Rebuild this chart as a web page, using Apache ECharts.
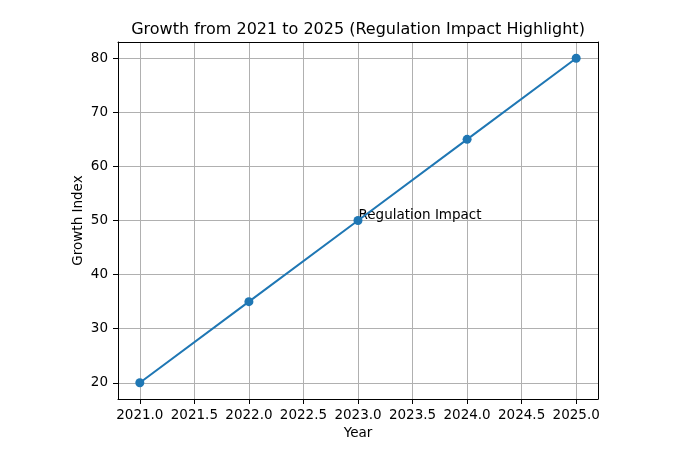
<!DOCTYPE html>
<html>
<head>
<meta charset="utf-8">
<script src="https://cdn.jsdelivr.net/npm/echarts@6/dist/echarts.min.js"></script>
<style>html,body{margin:0;padding:0;background:#fff}#c{width:700px;height:450px}</style>
</head>
<body>
<div id="c"></div>
<script>
var years = [2021, 2022, 2023, 2024, 2025];
var growth = [20, 35, 50, 65, 80];
var annotation = { x: 2023, y: 50, text: 'Regulation Impact' };

var font = 'DejaVu Sans';
var frameLine = { show: true, lineStyle: { color: '#000', width: 1 } };
var chart = echarts.init(document.getElementById('c'), null, { renderer: 'canvas' });
chart.setOption({
  animation: false,
  backgroundColor: '#fff',
  title: {
    text: 'Growth from 2021 to 2025 (Regulation Impact Highlight)',
    left: 353, top: 17, textAlign: 'center',
    textStyle: { fontFamily: font, fontSize: 16, fontWeight: 'normal', color: '#000' }
  },
  grid: { left: 118, right: 102, top: 42, bottom: 51 },
  xAxis: [{
    type: 'value', min: 2020.8, max: 2025.2, splitNumber: 8,
    name: 'Year', nameLocation: 'middle', nameGap: 27, nameMoveOverlap: false,
    nameTextStyle: { fontFamily: font, fontSize: 13.5, color: '#000' },
    axisLine: frameLine,
    axisTick: { show: true, length: 5, lineStyle: { color: '#000', width: 1 } },
    axisLabel: { showMinLabel: false, showMaxLabel: false, margin: 9, fontFamily: font, fontSize: 13.5, color: '#000',
      formatter: function (v) { return (Math.abs(v * 2 - Math.round(v * 2)) < 1e-6) ? v.toFixed(1) : ''; } },
    splitLine: { show: true, lineStyle: { color: '#b0b0b0', width: 1 } }
  }, {
    type: 'value', min: 2020.8, max: 2025.2, position: 'top',
    axisLine: frameLine, axisTick: { show: false }, axisLabel: { show: false }, splitLine: { show: false }
  }],
  yAxis: [{
    type: 'value', min: 17, max: 83, splitNumber: 6,
    name: 'Growth Index', nameLocation: 'middle', nameGap: 33, nameRotate: 90, nameMoveOverlap: false,
    nameTextStyle: { fontFamily: font, fontSize: 13.5, color: '#000' },
    axisLine: frameLine,
    axisTick: { show: true, length: 5, lineStyle: { color: '#000', width: 1 } },
    axisLabel: { showMinLabel: false, showMaxLabel: false, margin: 10, fontFamily: font, fontSize: 13.5, color: '#000',
      formatter: function (v) { return (Math.abs(v / 10 - Math.round(v / 10)) < 1e-6) ? String(v) : ''; } },
    splitLine: { show: true, lineStyle: { color: '#b0b0b0', width: 1 } }
  }, {
    type: 'value', min: 17, max: 83, position: 'right',
    axisLine: frameLine, axisTick: { show: false }, axisLabel: { show: false }, splitLine: { show: false }
  }],
  series: [{
    type: 'line',
    data: years.map(function (y, i) { return [y, growth[i]]; }),
    symbol: 'circle', symbolSize: 9, showSymbol: true,
    lineStyle: { color: '#1f77b4', width: 2 },
    itemStyle: { color: '#1f77b4' },
    z: 5,
    markPoint: {
      symbol: 'circle', symbolSize: 1,
      itemStyle: { color: 'rgba(0,0,0,0)' },
      label: { show: true, position: 'right', distance: 0, offset: [0, -5], formatter: annotation.text,
        fontFamily: font, fontSize: 13.5, color: '#000' },
      data: [{ coord: [annotation.x, annotation.y] }]
    }
  }]
});
</script>
</body>
</html>
